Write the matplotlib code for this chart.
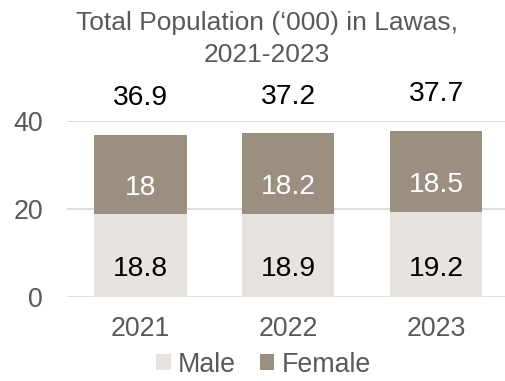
import matplotlib.pyplot as plt
import numpy as np

# population of Lawas ('000) by sex
years = ['2021', '2022', '2023']
male = [18.8, 18.9, 19.2]
female = [18.0, 18.2, 18.5]
total = [36.9, 37.2, 37.7]

male_col = '#E7E3E0'
female_col = '#9B8F82'
grey_txt = '#595959'

plt.rcParams['font.family'] = ['Liberation Sans', 'DejaVu Sans']

fig = plt.figure(figsize=(5.05, 3.81), dpi=100)
W, H = 505, 381
ax = fig.add_axes([66.5 / W, 84 / H, 443.5 / W, 176.4 / H])

x = np.arange(len(years))
bw = 0.624
b1 = ax.bar(x, male, bw, color=male_col, label='Male', zorder=2)
b2 = ax.bar(x, female, bw, bottom=male, color=female_col, label='Female', zorder=2)

lab_fs = 20.3
# segment labels sit a little below the middle of each segment
for i in range(len(years)):
    ax.annotate(f'{male[i]:g}', (x[i], male[i] / 2), xytext=(0, -10), textcoords='offset points',
                ha='center', va='center', fontsize=lab_fs, color='black')
    ax.annotate(f'{female[i]:g}', (x[i], male[i] + female[i] / 2), xytext=(0, -9.5), textcoords='offset points',
                ha='center', va='center', fontsize=lab_fs, color='white')
    ax.annotate(f'{total[i]:g}', (x[i], male[i] + female[i]), xytext=(0, 26.5), textcoords='offset points',
                ha='center', va='center', fontsize=lab_fs, color='black', annotation_clip=False)

ax.set_xlim(-0.5, 2.5)
ax.set_ylim(0, 40)
ax.set_yticks([0, 20, 40])
ax.set_xticks(x)
ax.set_xticklabels(years)
ax.yaxis.grid(True, color='#D9D9D9', linewidth=1.2, zorder=0)
ax.set_axisbelow(True)
for s in ax.spines.values():
    s.set_visible(False)
ax.tick_params(axis='both', length=0, labelsize=19.3, labelcolor=grey_txt)
ax.tick_params(axis='y', pad=17)
ax.tick_params(axis='x', pad=13.5)

fig.text(267 / W, 1 - 23 / H, 'Total Population (\u2018000) in Lawas,', ha='center', va='center',
         fontsize=19, color=grey_txt)
fig.text(267 / W, 1 - 55 / H, '2021-2023', ha='center', va='center', fontsize=19, color=grey_txt)

fig.legend(handles=[b1, b2], loc='center', bbox_to_anchor=(263.5 / W, 16.5 / H), ncol=2, frameon=False,
           fontsize=19.3, handlelength=0.53, handleheight=0.53, handletextpad=0.27, columnspacing=0.9,
           labelcolor=grey_txt, borderpad=0, borderaxespad=0)

fig.savefig('out.png', dpi=100)
